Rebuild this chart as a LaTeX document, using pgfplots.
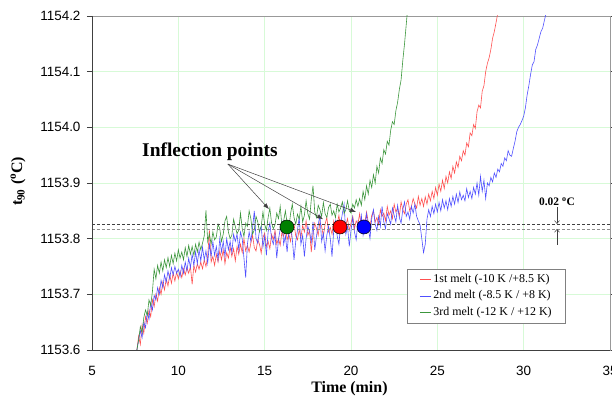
\documentclass[border=0pt]{standalone}
\usepackage{fontspec}
\setmainfont{Liberation Serif}
\setsansfont{Liberation Sans}
\usepackage{pgfplots}
\pgfplotsset{compat=1.18}
\usetikzlibrary{arrows.meta}
\definecolor{cred}{RGB}{255,80,80}
\definecolor{cblue}{RGB}{80,80,255}
\definecolor{cgreen}{RGB}{60,150,60}
\definecolor{mgreen}{RGB}{0,128,0}
\definecolor{gridgreen}{RGB}{215,250,215}
\begin{document}
\begin{tikzpicture}
\begin{axis}[
  name=ax, at={(0,0)}, anchor=south west,
  scale only axis, width=518bp, height=334bp,
  xmin=5, xmax=35, ymin=1153.6, ymax=1154.2,
  xtick={5,10,15,20,25,30,35},
  xticklabels={5,10,15,20,25,30,35},
  ytick={1153.6,1153.7,1153.8,1153.9,1154.0,1154.1,1154.2},
  yticklabels={1153.6,1153.7,1153.8,1153.9,1154.0,1154.1,1154.2},
  grid=major, major grid style={draw=gridgreen, line width=0.6bp},
  axis line style={draw=black!40, line width=0.8bp},
  tick align=outside, major tick length=5bp,
  xtick style={draw=none},
  ytick style={draw=black!75, line width=0.8bp},
  tick label style={font=\sffamily\fontsize{13.5}{14}\selectfont},
  /pgf/number format/assume math mode=true,
  xticklabel style={yshift=-8bp},
  yticklabel style={xshift=-3bp},
  xlabel={\textbf{Time (min)}},
  ylabel={\textbf{t\textsubscript{90} (\textsuperscript{o}C)}},
  xlabel style={font=\fontsize{16}{17}\selectfont, at={(axis description cs:0.497,0)}, anchor=base, yshift=-42bp},
  ylabel style={font=\fontsize{16}{17}\selectfont, at={(axis description cs:-0.1429,0.505)}, anchor=center},
  clip=true,
  legend style={at={(0.915,0.2425)}, anchor=north east, draw=black!50, line width=0.6bp,
    font=\fontsize{12}{13}\selectfont, inner xsep=12bp, inner ysep=2bp,
    nodes={inner ysep=2.5bp, text height=8.5bp, text depth=3bp},
    cells={anchor=west}},
  legend image code/.code={\draw[#1, line width=0.8bp] (0bp,0bp) -- (11bp,0bp);},
  extra description/.code={
    \draw[black!75, line width=0.8bp] (axis description cs:0,1) -- (axis description cs:0,0) -- (axis description cs:1,0);
  },
]
% 1st melt
\addplot[cred, line width=0.6bp] coordinates {
(7.6,1153.600)(7.7,1153.625)(7.8,1153.610)(7.9,1153.645)(8.0,1153.630)(8.1,1153.660)(8.2,1153.648)(8.3,1153.672)(8.4,1153.660)(8.5,1153.690)
(8.6,1153.678)(8.7,1153.700)(8.8,1153.688)(8.9,1153.712)(9.0,1153.700)(9.1,1153.722)(9.2,1153.708)(9.3,1153.728)(9.4,1153.715)(9.5,1153.735)
(9.6,1153.720)(9.7,1153.738)(9.8,1153.724)(9.9,1153.740)(10.0,1153.728)(10.1,1153.742)(10.2,1153.730)(10.3,1153.746)(10.4,1153.735)(10.5,1153.748)
(10.6,1153.738)(10.7,1153.750)(10.8,1153.718)(10.9,1153.752)(11.0,1153.740)(11.1,1153.755)(11.2,1153.745)(11.3,1153.758)(11.4,1153.746)(11.5,1153.762)
(11.6,1153.750)(11.7,1153.768)(11.8,1153.815)(11.9,1153.758)(12.0,1153.768)(12.1,1153.752)(12.2,1153.772)(12.3,1153.758)(12.4,1153.778)(12.5,1153.762)
(12.6,1153.780)(12.7,1153.755)(12.8,1153.775)(12.9,1153.765)(13.0,1153.785)(13.1,1153.768)(13.2,1153.782)(13.3,1153.760)(13.4,1153.786)(13.5,1153.772)
(13.6,1153.790)(13.7,1153.775)(13.8,1153.800)(13.9,1153.778)(14.0,1153.788)(14.1,1153.776)(14.2,1153.792)(14.3,1153.806)(14.4,1153.784)(14.5,1153.778)
(14.6,1153.798)(14.7,1153.790)(14.8,1153.774)(14.9,1153.802)(15.0,1153.810)(15.1,1153.786)(15.2,1153.795)(15.3,1153.782)(15.4,1153.808)(15.5,1153.798)
(15.6,1153.815)(15.7,1153.790)(15.8,1153.800)(15.9,1153.788)(16.0,1153.812)(16.1,1153.804)(16.2,1153.822)(16.3,1153.798)(16.4,1153.808)(16.5,1153.795)
(16.6,1153.818)(16.7,1153.826)(16.8,1153.805)(16.9,1153.798)(17.0,1153.816)(17.1,1153.802)(17.2,1153.824)(17.3,1153.812)(17.4,1153.832)(17.5,1153.806)
(17.6,1153.815)(17.7,1153.776)(17.8,1153.810)(17.9,1153.828)(18.0,1153.818)(18.1,1153.806)(18.2,1153.830)(18.3,1153.822)(18.4,1153.804)(18.5,1153.826)
(18.6,1153.838)(18.7,1153.812)(18.8,1153.820)(18.9,1153.808)(19.0,1153.832)(19.1,1153.815)(19.2,1153.826)(19.3,1153.842)(19.4,1153.818)(19.5,1153.810)
(19.6,1153.830)(19.7,1153.824)(19.8,1153.836)(19.9,1153.815)(20.0,1153.828)(20.1,1153.840)(20.2,1153.818)(20.3,1153.832)(20.4,1153.826)(20.5,1153.845)
(20.6,1153.820)(20.7,1153.834)(20.8,1153.828)(20.9,1153.848)(21.0,1153.830)(21.1,1153.822)(21.2,1153.842)(21.3,1153.850)(21.4,1153.830)(21.5,1153.838)
(21.6,1153.826)(21.7,1153.852)(21.8,1153.840)(21.9,1153.846)(22.0,1153.832)(22.1,1153.858)(22.2,1153.842)(22.3,1153.850)(22.4,1153.836)(22.5,1153.862)
(22.6,1153.848)(22.7,1153.855)(22.8,1153.840)(22.9,1153.866)(23.0,1153.852)(23.1,1153.845)(23.2,1153.862)(23.3,1153.870)(23.4,1153.850)(23.5,1153.858)
(23.6,1153.872)(23.7,1153.862)(23.8,1153.855)(23.9,1153.876)(24.0,1153.860)(24.1,1153.872)(24.2,1153.858)(24.3,1153.875)(24.4,1153.862)(24.5,1153.880)
(24.6,1153.868)(24.7,1153.885)(24.8,1153.872)(24.9,1153.892)(25.0,1153.878)(25.1,1153.898)(25.2,1153.885)(25.3,1153.905)(25.4,1153.890)(25.5,1153.912)
(25.6,1153.900)(25.7,1153.920)(25.8,1153.908)(25.9,1153.930)(26.0,1153.918)(26.1,1153.938)(26.2,1153.928)(26.3,1153.948)(26.4,1153.940)(26.5,1153.958)
(26.6,1153.950)(26.7,1153.972)(26.8,1153.965)(26.9,1153.990)(27.0,1153.985)(27.1,1154.005)(27.2,1153.998)(27.3,1154.028)(27.4,1154.040)(27.5,1154.035)
(27.6,1154.065)(27.7,1154.075)(27.8,1154.100)(27.9,1154.115)(28.0,1154.125)(28.1,1154.140)(28.2,1154.160)(28.3,1154.172)(28.4,1154.188)(28.5,1154.205)
};
\addlegendentry{1st melt (-10 K /+8.5 K)}
% 2nd melt
\addplot[cblue, line width=0.6bp] coordinates {
(7.6,1153.600)(7.7,1153.618)(7.8,1153.635)(7.9,1153.622)(8.0,1153.650)(8.1,1153.640)(8.2,1153.668)(8.3,1153.655)(8.4,1153.685)(8.5,1153.672)
(8.6,1153.698)(8.7,1153.690)(8.8,1153.712)(8.9,1153.700)(9.0,1153.725)(9.1,1153.712)(9.2,1153.735)(9.3,1153.722)(9.4,1153.742)(9.5,1153.728)
(9.6,1153.748)(9.7,1153.735)(9.8,1153.750)(9.9,1153.738)(10.0,1153.745)(10.1,1153.732)(10.2,1153.752)(10.3,1153.738)(10.4,1153.758)(10.5,1153.742)
(10.6,1153.765)(10.7,1153.748)(10.8,1153.772)(10.9,1153.752)(11.0,1153.776)(11.1,1153.755)(11.2,1153.780)(11.3,1153.760)(11.4,1153.785)(11.5,1153.762)
(11.6,1153.778)(11.7,1153.756)(11.8,1153.790)(11.9,1153.768)(12.0,1153.795)(12.1,1153.770)(12.2,1153.786)(12.3,1153.762)(12.4,1153.800)(12.5,1153.776)
(12.6,1153.795)(12.7,1153.768)(12.8,1153.800)(12.9,1153.780)(13.0,1153.795)(13.1,1153.775)(13.2,1153.808)(13.3,1153.795)(13.4,1153.808)(13.5,1153.780)
(13.6,1153.812)(13.7,1153.800)(13.8,1153.765)(13.9,1153.730)(14.0,1153.790)(14.1,1153.812)(14.2,1153.795)(14.3,1153.820)(14.4,1153.850)(14.5,1153.800)
(14.6,1153.792)(14.7,1153.815)(14.8,1153.822)(14.9,1153.785)(15.0,1153.805)(15.1,1153.770)(15.2,1153.812)(15.3,1153.828)(15.4,1153.800)(15.5,1153.790)
(15.6,1153.808)(15.7,1153.765)(15.8,1153.798)(15.9,1153.818)(16.0,1153.832)(16.1,1153.790)(16.2,1153.805)(16.3,1153.776)(16.4,1153.812)(16.5,1153.826)
(16.6,1153.800)(16.7,1153.762)(16.8,1153.795)(16.9,1153.815)(17.0,1153.838)(17.1,1153.790)(17.2,1153.806)(17.3,1153.768)(17.4,1153.800)(17.5,1153.822)
(17.6,1153.812)(17.7,1153.794)(17.8,1153.830)(17.9,1153.780)(18.0,1153.804)(18.1,1153.825)(18.2,1153.842)(18.3,1153.795)(18.4,1153.810)(18.5,1153.778)
(18.6,1153.806)(18.7,1153.822)(18.8,1153.800)(18.9,1153.768)(19.0,1153.815)(19.1,1153.832)(19.2,1153.805)(19.3,1153.790)(19.4,1153.826)(19.5,1153.845)
(19.6,1153.862)(19.7,1153.808)(19.8,1153.822)(19.9,1153.786)(20.0,1153.815)(20.1,1153.838)(20.2,1153.812)(20.3,1153.798)(20.4,1153.830)(20.5,1153.820)
(20.6,1153.842)(20.7,1153.806)(20.8,1153.822)(20.9,1153.845)(21.0,1153.818)(21.1,1153.800)(21.2,1153.836)(21.3,1153.852)(21.4,1153.826)(21.5,1153.815)
(21.6,1153.840)(21.7,1153.822)(21.8,1153.858)(21.9,1153.830)(22.0,1153.818)(22.1,1153.845)(22.2,1153.836)(22.3,1153.826)(22.4,1153.855)(22.5,1153.842)
(22.6,1153.830)(22.7,1153.860)(22.8,1153.838)(22.9,1153.828)(23.0,1153.852)(23.1,1153.866)(23.2,1153.840)(23.3,1153.848)(23.4,1153.835)(23.5,1153.858)
(23.6,1153.846)(23.7,1153.862)(23.8,1153.840)(23.9,1153.832)(24.0,1153.825)(24.1,1153.800)(24.2,1153.775)(24.3,1153.790)(24.4,1153.835)(24.5,1153.852)
(24.6,1153.840)(24.7,1153.858)(24.8,1153.845)(24.9,1153.862)(25.0,1153.848)(25.1,1153.865)(25.2,1153.850)(25.3,1153.870)(25.4,1153.855)(25.5,1153.868)
(25.6,1153.852)(25.7,1153.872)(25.8,1153.858)(25.9,1153.876)(26.0,1153.862)(26.1,1153.880)(26.2,1153.865)(26.3,1153.884)(26.4,1153.870)(26.5,1153.878)
(26.6,1153.868)(26.7,1153.890)(26.8,1153.874)(26.9,1153.885)(27.0,1153.872)(27.1,1153.892)(27.2,1153.880)(27.3,1153.900)(27.4,1153.878)(27.5,1153.912)
(27.6,1153.885)(27.7,1153.905)(27.8,1153.872)(27.9,1153.900)(28.0,1153.895)(28.1,1153.910)(28.2,1153.902)(28.3,1153.918)(28.4,1153.910)(28.5,1153.925)
(28.6,1153.920)(28.7,1153.935)(28.8,1153.930)(28.9,1153.945)(29.0,1153.940)(29.1,1153.958)(29.2,1153.950)(29.3,1153.948)(29.4,1153.962)(29.5,1153.975)
(29.6,1153.992)(29.7,1154.000)(29.8,1154.005)(29.9,1154.012)(30.0,1154.020)(30.1,1154.035)(30.2,1154.058)(30.3,1154.075)(30.4,1154.095)(30.5,1154.112)
(30.6,1154.118)(30.7,1154.140)(30.8,1154.148)(30.9,1154.160)(31.0,1154.172)(31.1,1154.178)(31.2,1154.192)(31.3,1154.205)
};
\addlegendentry{2nd melt (-8.5 K / +8 K)}
% 3rd melt
\addplot[cgreen, line width=0.6bp] coordinates {
(7.6,1153.600)(7.7,1153.618)(7.8,1153.642)(7.9,1153.632)(8.0,1153.658)(8.1,1153.672)(8.2,1153.662)(8.3,1153.690)(8.4,1153.680)(8.5,1153.705)
(8.6,1153.745)(8.7,1153.728)(8.8,1153.752)(8.9,1153.738)(9.0,1153.758)(9.1,1153.742)(9.2,1153.762)(9.3,1153.748)(9.4,1153.766)(9.5,1153.750)
(9.6,1153.770)(9.7,1153.755)(9.8,1153.774)(9.9,1153.760)(10.0,1153.780)(10.1,1153.765)(10.2,1153.776)(10.3,1153.762)(10.4,1153.784)(10.5,1153.768)
(10.6,1153.788)(10.7,1153.772)(10.8,1153.786)(10.9,1153.770)(11.0,1153.790)(11.1,1153.776)(11.2,1153.794)(11.3,1153.780)(11.4,1153.792)(11.5,1153.805)
(11.6,1153.851)(11.7,1153.795)(11.8,1153.808)(11.9,1153.790)(12.0,1153.812)(12.1,1153.798)(12.2,1153.803)(12.3,1153.826)(12.4,1153.818)(12.5,1153.795)
(12.6,1153.808)(12.7,1153.832)(12.8,1153.840)(12.9,1153.812)(13.0,1153.800)(13.1,1153.806)(13.2,1153.835)(13.3,1153.822)(13.4,1153.809)(13.5,1153.815)
(13.6,1153.846)(13.7,1153.818)(13.8,1153.804)(13.9,1153.828)(14.0,1153.822)(14.1,1153.850)(14.2,1153.836)(14.3,1153.808)(14.4,1153.816)(14.5,1153.840)
(14.6,1153.830)(14.7,1153.812)(14.8,1153.822)(14.9,1153.848)(15.0,1153.826)(15.1,1153.815)(15.2,1153.838)(15.3,1153.855)(15.4,1153.828)(15.5,1153.818)
(15.6,1153.825)(15.7,1153.846)(15.8,1153.836)(15.9,1153.858)(16.0,1153.822)(16.1,1153.832)(16.2,1153.850)(16.3,1153.828)(16.4,1153.818)(16.5,1153.845)
(16.6,1153.862)(16.7,1153.838)(16.8,1153.826)(16.9,1153.844)(17.0,1153.835)(17.1,1153.858)(17.2,1153.830)(17.3,1153.842)(17.4,1153.868)(17.5,1153.845)
(17.6,1153.835)(17.7,1153.870)(17.8,1153.895)(17.9,1153.848)(18.0,1153.838)(18.1,1153.860)(18.2,1153.852)(18.3,1153.840)(18.4,1153.865)(18.5,1153.845)
(18.6,1153.838)(18.7,1153.856)(18.8,1153.862)(18.9,1153.842)(19.0,1153.850)(19.1,1153.838)(19.2,1153.862)(19.3,1153.848)(19.4,1153.855)(19.5,1153.866)
(19.6,1153.845)(19.7,1153.852)(19.8,1153.868)(19.9,1153.850)(20.0,1153.846)(20.1,1153.862)(20.2,1153.855)(20.3,1153.870)(20.4,1153.858)(20.5,1153.872)
(20.6,1153.860)(20.7,1153.885)(20.8,1153.870)(20.9,1153.895)(21.0,1153.880)(21.1,1153.905)(21.2,1153.892)(21.3,1153.915)(21.4,1153.900)(21.5,1153.930)
(21.6,1153.918)(21.7,1153.945)(21.8,1153.935)(21.9,1153.960)(22.0,1153.952)(22.1,1153.975)(22.2,1153.968)(22.3,1153.995)(22.4,1154.010)(22.5,1154.005)
(22.6,1154.030)(22.7,1154.045)(22.8,1154.068)(22.9,1154.085)(23.0,1154.120)(23.1,1154.150)(23.2,1154.185)(23.3,1154.220)
};
\addlegendentry{3rd melt (-12 K / +12 K)}
% 0.02 degC band
\addplot[black!75, line width=0.6bp, dash pattern=on 3bp off 2bp, forget plot] coordinates {(5,1153.8265) (35,1153.8265)};
\addplot[black!45, line width=0.6bp, dash pattern=on 3bp off 2bp, forget plot] coordinates {(5,1153.8175) (35,1153.8175)};
% inflection points
\addplot[only marks, mark=*, mark size=7bp, mark options={fill=mgreen, draw=black, line width=0.5bp}, forget plot] coordinates {(16.29,1153.821)};
\addplot[only marks, mark=*, mark size=7bp, mark options={fill=red, draw=black, line width=0.5bp}, forget plot] coordinates {(19.36,1153.821)};
\addplot[only marks, mark=*, mark size=7bp, mark options={fill=blue, draw=black, line width=0.5bp}, forget plot] coordinates {(20.75,1153.821)};
% annotations
\node[font=\bfseries\fontsize{19.5}{20}\selectfont, anchor=base] at (axis cs:11.83,1153.9485) {Inflection points};
\draw[black!75, line width=0.5bp, -{Latex[length=6bp,width=4.5bp]}] (axis cs:12.87,1153.934) -- (axis cs:15.25,1153.853);
\draw[black!75, line width=0.5bp, -{Latex[length=6bp,width=4.5bp]}] (axis cs:12.87,1153.934) -- (axis cs:18.38,1153.835);
\draw[black!75, line width=0.5bp, -{Latex[length=6bp,width=4.5bp]}] (axis cs:12.87,1153.934) -- (axis cs:20.29,1153.848);
\node[font=\bfseries\fontsize{11.5}{12}\selectfont] at (axis cs:31.93,1153.866) {0.02 \textsuperscript{o}C};
\draw[black!75, line width=0.5bp, -{Straight Barb[length=3bp,width=5bp]}] (axis cs:31.93,1153.857) -- (axis cs:31.93,1153.8265);
\draw[black!75, line width=0.5bp, -{Straight Barb[length=3bp,width=5bp]}] (axis cs:31.93,1153.789) -- (axis cs:31.93,1153.8175);
\end{axis}
\pgfresetboundingbox
\path[use as bounding box] (-92bp,-48bp) rectangle (520bp,350bp);
\end{tikzpicture}
\end{document}
